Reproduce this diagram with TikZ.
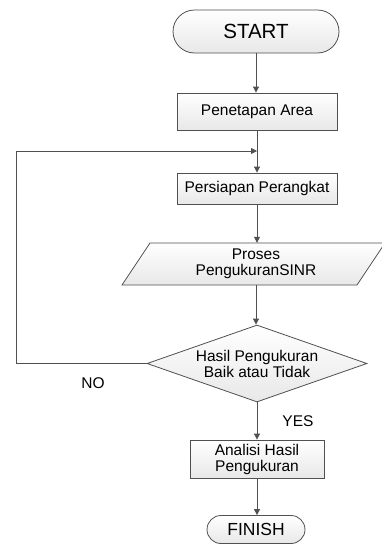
\documentclass[tikz,border=0pt]{standalone}
\usepackage{fontspec}
\setmainfont{Liberation Sans}
\usetikzlibrary{shapes.geometric,arrows.meta}
\definecolor{edge}{HTML}{505050}
\tikzset{
  boxfill/.style={top color=white,bottom color=gray!18,draw=edge,line width=0.8pt},
  procbox/.style={boxfill,rectangle,inner sep=0pt,align=center,font=\fontsize{15.5}{16}\selectfont},
  termbox/.style={boxfill,rectangle,rounded corners=#1,inner sep=0pt,align=center},
  decbox/.style={boxfill,diamond,aspect=2.86,inner sep=0pt,align=center,font=\fontsize{15.5}{16}\selectfont},
  flow/.style={draw=edge,line width=0.8pt,-{Triangle[length=6pt,width=6pt]}},
  lbl/.style={font=\fontsize{15.5}{16}\selectfont}
}
\begin{document}
\begin{tikzpicture}[x=1pt,y=-1pt]
\useasboundingbox (0,0) rectangle (382,544);
\node[termbox=21.5pt,minimum width=166pt,minimum height=43pt,font=\fontsize{20.5}{22}\selectfont] (start) at (256,31.5) {START};
\node[procbox,minimum width=160pt,minimum height=37pt] (area) at (257,111.5) {Penetapan Area};
\node[procbox,minimum width=160pt,minimum height=31pt] (prep) at (257,188.5) {Persiapan Perangkat};
\shade[top color=white,bottom color=gray!18,draw=edge,line width=0.8pt]
  (150,243) -- (385,243) -- (357,285) -- (122,285) -- cycle;
\node[inner sep=0pt,minimum height=42pt,align=center,font=\fontsize{15.5}{16}\selectfont] (proc) at (256,264) {Proses\\PengukuranSINR};
\node[decbox,minimum width=220pt,minimum height=77pt] (dec) at (257,363.5) {Hasil Pengukuran\\Baik atau Tidak};
\node[procbox,minimum width=134pt,minimum height=38pt] (anal) at (257,459) {Analisi Hasil\\Pengukuran};
\node[termbox=14pt,minimum width=98pt,minimum height=28pt,font=\fontsize{17.5}{18}\selectfont] (finish) at (256,529.5) {FINISH};
\node[lbl] (no) at (93,383) {NO};
\node[lbl] (yes) at (298,421) {YES};
\coordinate (loopL) at (16,151);
\coordinate (join) at (area.south |- loopL);
\draw[flow] (start) -- (start |- area.north);
\draw[flow] (area) -- (prep);
\draw[flow] (dec.west) -| (loopL) -- (join);
\draw[flow] (prep.south) -- (prep.south |- proc.north);
\draw[flow] (proc.south) -- (proc.south |- dec.north);
\draw[flow] (dec.south) -- (dec.south |- anal.north);
\draw[flow] (anal.south) -- (anal.south |- finish.north);
\end{tikzpicture}
\end{document}
